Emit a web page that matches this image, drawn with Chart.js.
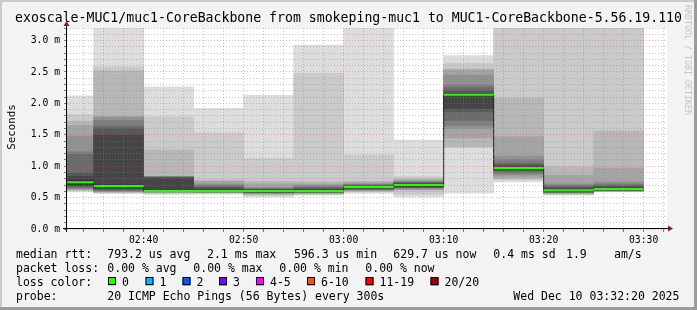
<!DOCTYPE html>
<html>
<head>
<meta charset="utf-8">
<title>exoscale-MUC1/muc1-CoreBackbone</title>
<script src="https://cdn.jsdelivr.net/npm/chart.js@4.4.1/dist/chart.umd.min.js"></script>
<style>
  html, body { margin: 0; padding: 0; background: #f3f3f3; }
  canvas { display: block; }
</style>
</head>
<body>
<canvas id="smokeChart" width="697" height="310"></canvas>
<script>
// 300s steps, end of each step in minutes after 02:00
const intervalEnd = [35, 40, 45, 50, 55, 60, 65, 70, 75, 80, 85, 90];
const stepMinutes = 5;

// median rtt per step (ms)
const medianMs = [0.745, 0.686, 0.606, 0.606, 0.603, 0.606, 0.670, 0.700, 2.137, 0.973, 0.617, 0.638];

// 20 sorted pings per step (ms)
const pingsMs = [
  [0.59, 0.61, 0.62, 0.63, 0.64, 0.65, 0.665, 0.68, 0.69, 0.71, 0.78, 0.84, 0.89, 1.19, 1.23, 1.48, 1.65, 1.72, 1.82, 2.12],
  [0.565, 0.575, 0.585, 0.59, 0.60, 0.61, 0.62, 0.63, 0.645, 0.665, 0.705, 1.50, 1.60, 1.64, 1.73, 1.78, 1.79, 2.52, 2.58, 3.6],
  [0.55, 0.565, 0.575, 0.585, 0.59, 0.592, 0.595, 0.597, 0.598, 0.60, 0.612, 0.81, 0.82, 0.825, 0.83, 0.835, 0.84, 1.255, 1.786, 2.265],
  [0.555, 0.565, 0.575, 0.58, 0.585, 0.59, 0.592, 0.595, 0.597, 0.60, 0.612, 0.64, 0.66, 0.68, 0.70, 0.72, 0.76, 0.78, 1.53, 1.92],
  [0.51, 0.53, 0.55, 0.56, 0.57, 0.575, 0.58, 0.585, 0.59, 0.595, 0.612, 0.62, 0.63, 0.64, 0.65, 0.66, 0.72, 0.76, 1.12, 2.13],
  [0.537, 0.55, 0.56, 0.57, 0.575, 0.58, 0.585, 0.59, 0.595, 0.60, 0.612, 0.63, 0.645, 0.66, 0.68, 0.70, 0.72, 0.75, 2.48, 2.93],
  [0.565, 0.59, 0.60, 0.61, 0.62, 0.63, 0.635, 0.64, 0.65, 0.66, 0.675, 0.68, 0.69, 0.70, 0.71, 0.72, 0.74, 0.76, 1.175, 3.5],
  [0.51, 0.55, 0.62, 0.63, 0.64, 0.65, 0.66, 0.665, 0.67, 0.69, 0.71, 0.72, 0.73, 0.74, 0.75, 0.76, 0.78, 0.80, 0.83, 1.415],
  [0.57, 1.30, 1.31, 1.45, 1.60, 1.65, 1.73, 1.87, 1.92, 2.13, 2.14, 2.16, 2.20, 2.25, 2.29, 2.45, 2.53, 2.55, 2.64, 2.76],
  [0.75, 0.78, 0.80, 0.82, 0.856, 0.88, 0.91, 0.93, 0.95, 0.965, 0.98, 1.0, 1.02, 1.05, 1.10, 1.16, 1.47, 2.09, 3.5, 3.8],
  [0.537, 0.55, 0.56, 0.57, 0.575, 0.58, 0.585, 0.59, 0.60, 0.61, 0.625, 0.64, 0.66, 0.68, 0.70, 0.72, 0.86, 0.99, 3.4, 3.9],
  [0.59, 0.595, 0.60, 0.605, 0.608, 0.61, 0.615, 0.62, 0.625, 0.63, 0.645, 0.665, 0.68, 0.70, 0.72, 0.75, 0.97, 1.56, 3.5, 3.9]
];

// x axis: 02:32:20 .. 03:32:20
const xStart = 32 + 20 / 60;
const xEnd = 92 + 20 / 60;
const xLabelMinutes = [40, 50, 60, 70, 80, 90];
const xLabels = ['02:40', '02:50', '03:00', '03:10', '03:20', '03:30'];
const yMax = 3.2;

const title = 'exoscale-MUC1/muc1-CoreBackbone from smokeping-muc1 to MUC1-CoreBackbone-5.56.19.110';
const lossLabels = ['0', '1', '2', '3', '4-5', '6-10', '11-19', '20/20'];
const lossColors = ['#26ff00', '#00b8ff', '#0059ff', '#7e00ff', '#ff00ff', '#ff5500', '#ff0000', '#a10000'];

const mono = '"DejaVu Sans Mono", "Liberation Mono", monospace';

// plot box inside the 697x310 canvas
const plotLeft = 67, plotRight = 667;
const pxPerMinute = (plotRight - plotLeft) / (xEnd - xStart);

// smoke shading, outermost pair lightest
const half = 10;
const smokeGrays = [];
for (let i = 1; i <= half; i++) {
    const g = Math.floor(190 / half * (half - i)) + 50;
    smokeGrays.push(`rgb(${g},${g},${g})`);
}

const datasets = [];

// median in loss colour (all steps 0 loss)
const medianSegments = [];
intervalEnd.forEach((t, k) => {
    medianSegments.push({ x: t - stepMinutes, y: medianMs[k] });
    medianSegments.push({ x: t, y: medianMs[k] });
    medianSegments.push({ x: t, y: null });
});
datasets.push({
    type: 'line',
    data: medianSegments,
    borderColor: lossColors[0],
    borderWidth: 2,
    borderCapStyle: 'butt',
    pointRadius: 0,
    spanGaps: false,
    order: 0
});

// thin dark step line under it
const medianSteps = intervalEnd.map((t, k) => ({ x: t - stepMinutes, y: medianMs[k] }));
medianSteps.push({ x: intervalEnd[intervalEnd.length - 1], y: medianMs[medianMs.length - 1] });
datasets.push({
    type: 'line',
    data: medianSteps,
    stepped: 'before',
    borderColor: '#202020',
    borderWidth: 1,
    pointRadius: 0,
    order: 1
});

for (let i = 0; i < half; i++) {
    datasets.push({
        type: 'bar',
        data: intervalEnd.map((t, k) => ({
            x: t - stepMinutes / 2,
            y: [pingsMs[k][i], pingsMs[k][19 - i]]
        })),
        backgroundColor: smokeGrays[i],
        borderWidth: 0,
        barThickness: stepMinutes * pxPerMinute,
        grouped: false,
        order: 12 - i
    });
}

function isMajorY(v) { return Math.abs(v * 2 - Math.round(v * 2)) < 1e-6; }

const majorGrid = 'rgba(235, 80, 80, 0.45)';
const minorGrid = 'rgba(130, 130, 130, 0.45)';

const rrdDecor = {
    id: 'rrdDecor',
    beforeDraw(chart) {
        const { ctx, chartArea: a } = chart;
        ctx.save();
        ctx.fillStyle = '#f3f3f3';
        ctx.fillRect(0, 0, chart.width, chart.height);
        ctx.fillStyle = '#ffffff';
        ctx.fillRect(a.left, a.top, a.right - a.left, a.bottom - a.top);
        ctx.restore();
    },
    afterDraw(chart) {
        const { ctx, chartArea: a } = chart;
        const W = chart.width, H = chart.height;
        ctx.save();

        // axes with arrows
        ctx.strokeStyle = '#000';
        ctx.lineWidth = 1;
        ctx.beginPath();
        ctx.moveTo(a.left - 4, a.bottom - 0.5);
        ctx.lineTo(a.right + 2, a.bottom - 0.5);
        ctx.moveTo(a.left - 0.5, a.bottom + 3);
        ctx.lineTo(a.left - 0.5, a.top - 2);
        ctx.stroke();
        ctx.fillStyle = '#8b1a1a';
        ctx.beginPath();
        ctx.moveTo(a.right + 1, a.bottom - 3.5);
        ctx.lineTo(a.right + 6, a.bottom - 0.5);
        ctx.lineTo(a.right + 1, a.bottom + 2.5);
        ctx.closePath();
        ctx.fill();
        ctx.beginPath();
        ctx.moveTo(a.left - 3.5, a.top - 2);
        ctx.lineTo(a.left - 0.5, a.top - 7);
        ctx.lineTo(a.left + 2.5, a.top - 2);
        ctx.closePath();
        ctx.fill();

        // title
        ctx.fillStyle = '#000';
        ctx.font = `13.2px ${mono}`;
        ctx.textAlign = 'center';
        ctx.textBaseline = 'alphabetic';
        ctx.fillText(title, W / 2, 22);

        // vertical unit label
        ctx.save();
        ctx.font = `10.8px ${mono}`;
        ctx.translate(15, 127);
        ctx.rotate(-Math.PI / 2);
        ctx.fillText('Seconds', 0, 0);
        ctx.restore();

        // watermark
        ctx.save();
        ctx.fillStyle = '#c4c4c4';
        ctx.font = `8.3px ${mono}`;
        ctx.textAlign = 'left';
        ctx.translate(685, 5);
        ctx.rotate(Math.PI / 2);
        ctx.fillText('RRDTOOL / TOBI OETIKER', 0, 0);
        ctx.restore();

        // legend block
        ctx.font = `11.5px ${mono}`;
        ctx.textAlign = 'left';
        const rows = [
            [[16, 'median rtt:'], [107.3, '793.2 us avg'], [207, '2.1 ms max'], [294, '596.3 us min'],
             [393.3, '629.7 us now'], [493.3, '0.4 ms sd'], [566, '1.9'], [614, 'am/s']],
            [[16, 'packet loss:'], [107.3, '0.00 % avg'], [193.3, '0.00 % max'], [279.3, '0.00 % min'], [365.3, '0.00 % now']],
            [[16, 'loss color:']],
            [[16, 'probe:'], [107.3, '20 ICMP Echo Pings (56 Bytes) every 300s'], [513.3, 'Wed Dec 10 03:32:20 2025']]
        ];
        rows.forEach((row, r) => {
            row.forEach(([x, s]) => ctx.fillText(s, x, 258.3 + r * 14));
        });
        const boxX = [108, 145.5, 182.5, 219, 256, 307, 365.5, 430.5];
        lossLabels.forEach((lab, i) => {
            ctx.fillStyle = lossColors[i];
            ctx.fillRect(boxX[i], 277.5, 8, 8);
            ctx.strokeStyle = '#000';
            ctx.strokeRect(boxX[i] + 0.5, 277.5, 7, 7);
            ctx.fillStyle = '#000';
            ctx.fillText(lab, boxX[i] + 14, 286.3);
        });

        // frame
        ctx.fillStyle = '#cbcbcb';
        ctx.fillRect(0, 0, W, 2);
        ctx.fillRect(0, 0, 2, H);
        ctx.fillStyle = '#9b9b9b';
        ctx.fillRect(W - 3, 0, 3, H);
        ctx.fillRect(0, H - 3, W, 3);
        ctx.restore();
    }
};

new Chart(document.getElementById('smokeChart'), {
    type: 'bar',
    data: { datasets: datasets },
    options: {
        responsive: false,
        animation: false,
        devicePixelRatio: 1,
        layout: { padding: { top: 28, right: 697 - plotRight, bottom: 61, left: 0 } },
        plugins: { legend: { display: false }, title: { display: false }, tooltip: { enabled: false } },
        scales: {
            x: {
                type: 'linear',
                min: xStart,
                max: xEnd,
                offset: false,
                afterBuildTicks: s => {
                    const t = [];
                    for (let m = 34; m <= 92; m += 2) t.push({ value: m });
                    s.ticks = t;
                },
                afterFit: s => { s.height = 20; },
                ticks: {
                    autoSkip: false,
                    maxRotation: 0,
                    padding: 3,
                    color: '#000',
                    font: { family: mono, size: 9.75 },
                    callback: v => {
                        const i = xLabelMinutes.indexOf(v);
                        return i >= 0 ? xLabels[i] : '';
                    }
                },
                grid: {
                    offset: false,
                    z: 1,
                    color: c => (c.tick && xLabelMinutes.includes(c.tick.value)) ? majorGrid : minorGrid,
                    tickLength: 3,
                    tickColor: '#777'
                },
                border: { display: false, dash: [1, 2] }
            },
            y: {
                min: 0,
                max: yMax,
                afterBuildTicks: s => {
                    const t = [];
                    for (let i = 0; i <= 32; i++) t.push({ value: i / 10 });
                    s.ticks = t;
                },
                afterFit: s => { s.width = plotLeft; },
                ticks: {
                    autoSkip: false,
                    padding: 4,
                    color: '#000',
                    font: { family: mono, size: 9.75 },
                    callback: v => isMajorY(v) ? v.toFixed(1) + ' m' : ''
                },
                grid: {
                    z: 1,
                    color: c => (c.tick && isMajorY(c.tick.value)) ? majorGrid : minorGrid,
                    tickLength: 3,
                    tickColor: '#777'
                },
                border: { display: false, dash: [1, 2] }
            }
        }
    },
    plugins: [rrdDecor]
});
</script>
</body>
</html>
